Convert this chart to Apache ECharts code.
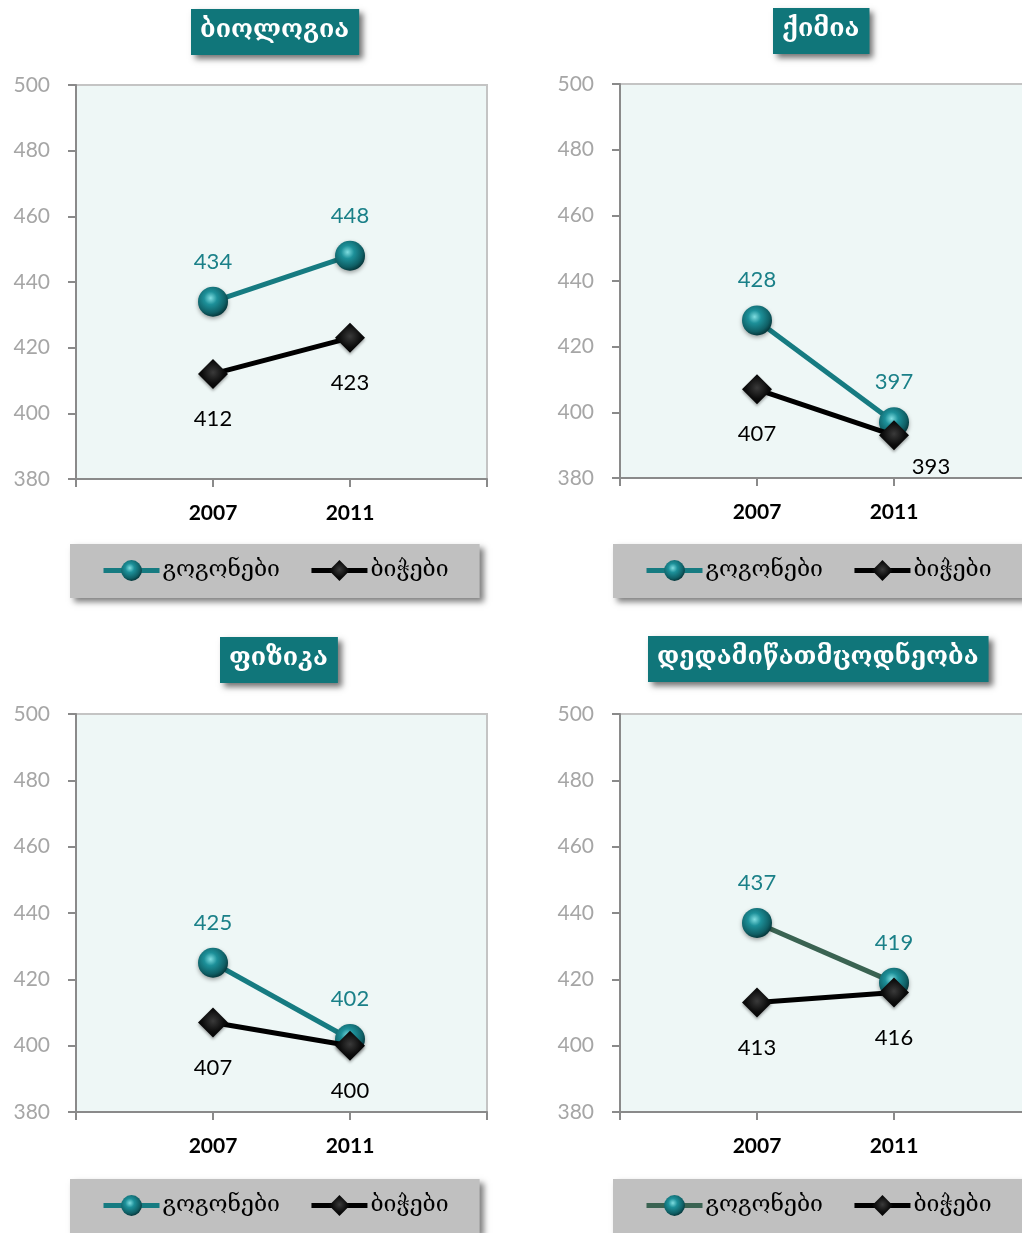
<!DOCTYPE html>
<html>
<head>
<meta charset="utf-8">
<script src="https://cdn.jsdelivr.net/npm/echarts@6/dist/echarts.min.js"></script>
<style>
  html, body { margin: 0; padding: 0; background: #fff; }
  #root { width: 1022px; height: 1233px; }
</style>
</head>
<body>
<div id="root"></div>
<script>
// categories (blank ends give the outer ticks)
const categories = ['', '2007', '2011', ''];
const subjects = ['ბიოლოგია', 'ქიმია', 'ფიზიკა', 'დედამიწათმცოდნეობა'];
const seriesNames = ['გოგონები', 'ბიჭები'];
const yTicks = [380, 400, 420, 440, 460, 480, 500];

const girlsBiology = [434, 448];
const boysBiology = [412, 423];
const girlsChemistry = [428, 397];
const boysChemistry = [407, 393];
const girlsPhysics = [425, 402];
const boysPhysics = [407, 400];
const girlsEarth = [437, 419];
const boysEarth = [413, 416];

(function() {
  const teal = '#167b81';
  const labelTeal = '#1a8088';
  const georgian = '"DejaVu Serif", "DejaVu Sans", serif';
  const latin = 'Lato, "Open Sans", sans-serif';

  // right-hand panels run past the page edge, like the source
  const panels = [
    { girls: girlsBiology, boys: boysBiology, grid: { left: 76, top: 85, right: 535, height: 394 },
      title: { left: 191, top: 9 }, legend: { left: 70, top: 544 }, girlsColor: teal },
    { girls: girlsChemistry, boys: boysChemistry, grid: { left: 620, top: 84, right: -9, height: 394 },
      title: { left: 773, top: 8 }, legend: { left: 613, top: 544 }, girlsColor: teal, shiftLast: true },
    { girls: girlsPhysics, boys: boysPhysics, grid: { left: 76, top: 714, right: 535, height: 398 },
      title: { left: 220, top: 637 }, legend: { left: 70, top: 1179 }, girlsColor: teal },
    { girls: girlsEarth, boys: boysEarth, grid: { left: 620, top: 714, right: -9, height: 398 },
      title: { left: 648, top: 636 }, legend: { left: 613, top: 1179 }, girlsColor: '#3a6352' }
  ];

  const pad = vals => [null, ...vals, null];

  const sphere = {
    type: 'radial', x: 0.42, y: 0.38, r: 0.62,
    colorStops: [
      { offset: 0, color: '#7fdde0' },
      { offset: 0.35, color: '#1d9099' },
      { offset: 0.8, color: '#0f5f65' },
      { offset: 1, color: '#073a3e' }
    ]
  };
  const diamond = {
    type: 'radial', x: 0.5, y: 0.45, r: 0.6,
    colorStops: [
      { offset: 0, color: '#3a3a3a' },
      { offset: 0.6, color: '#0c0c0c' },
      { offset: 1, color: '#000' }
    ]
  };

  const option = {
    animation: false,
    title: [], grid: [], xAxis: [], yAxis: [], series: [], legend: []
  };

  panels.forEach((p, i) => {
    option.title.push({
      text: subjects[i],
      left: p.title.left,
      top: p.title.top,
      backgroundColor: '#10767a',
      padding: [9, 10, 12, 9],
      shadowBlur: 6,
      shadowColor: 'rgba(0,0,0,0.55)',
      shadowOffsetX: 4,
      shadowOffsetY: 4,
      textStyle: { color: '#fff', fontSize: 25, fontWeight: 'bold', fontFamily: georgian }
    });

    option.grid.push(Object.assign({
      show: true,
      outerBoundsMode: 'none',
      containLabel: false,
      backgroundColor: '#eef7f6',
      borderColor: '#c4c4c4',
      borderWidth: 2
    }, p.grid));

    option.xAxis.push({
      type: 'category',
      gridIndex: i,
      data: categories,
      boundaryGap: false,
      axisLine: { lineStyle: { color: '#8a8a8a', width: 2 } },
      axisTick: { show: true, length: 8, interval: 0, lineStyle: { color: '#8a8a8a', width: 2 } },
      axisLabel: { interval: 0, margin: 24, color: '#000', fontSize: 21, fontWeight: 'bold', fontFamily: latin },
      splitLine: { show: false }
    });

    option.yAxis.push({
      type: 'value',
      gridIndex: i,
      min: yTicks[0],
      max: yTicks[yTicks.length - 1],
      interval: 20,
      axisLine: { show: true, lineStyle: { color: '#8a8a8a', width: 2 } },
      axisTick: { show: true, length: 8, lineStyle: { color: '#8a8a8a', width: 2 } },
      axisLabel: { margin: 26, color: '#a6a6a6', fontSize: 21, fontFamily: latin },
      splitLine: { show: false }
    });

    option.series.push({
      name: seriesNames[0],
      type: 'line',
      xAxisIndex: i,
      yAxisIndex: i,
      data: pad(p.girls),
      symbol: 'circle',
      symbolSize: 30,
      lineStyle: { color: p.girlsColor, width: 5 },
      itemStyle: { color: sphere, shadowBlur: 4, shadowColor: 'rgba(0,0,0,0.35)', shadowOffsetY: 2 },
      label: { show: true, position: 'top', distance: 14, color: labelTeal, fontSize: 22, fontFamily: latin },
      z: 2
    });

    const boysData = pad(p.boys).map((v, k) => {
      if (v === null) return v;
      if (p.shiftLast && k === 2) {
        return { value: v, label: { offset: [37, -13] } };
      }
      return v;
    });

    option.series.push({
      name: seriesNames[1],
      type: 'line',
      xAxisIndex: i,
      yAxisIndex: i,
      data: boysData,
      symbol: 'diamond',
      symbolSize: 30,
      lineStyle: { color: '#000', width: 5 },
      itemStyle: { color: diamond, shadowBlur: 3, shadowColor: 'rgba(0,0,0,0.35)', shadowOffsetY: 2 },
      label: { show: true, position: 'bottom', distance: 19, color: '#000', fontSize: 22, fontFamily: latin },
      z: 3
    });

    option.legend.push({
      left: p.legend.left,
      top: p.legend.top,
      width: 420,
      orient: 'horizontal',
      backgroundColor: '#c0c0c0',
      padding: [15, 31, 16, 31],
      itemGap: 29,
      itemWidth: 56,
      itemHeight: 26,
      shadowBlur: 6,
      shadowColor: 'rgba(0,0,0,0.5)',
      shadowOffsetX: 4,
      shadowOffsetY: 4,
      selectedMode: false,
      textStyle: { color: '#000', fontSize: 23, fontFamily: georgian, padding: [8, 0, 0, -2] },
      data: [
        { name: seriesNames[0], lineStyle: { color: p.girlsColor, width: 5 }, itemStyle: { color: sphere } },
        { name: seriesNames[1], lineStyle: { color: '#000', width: 5 }, itemStyle: { color: diamond } }
      ]
    });
  });

  const chart = echarts.init(document.getElementById('root'));
  chart.setOption(option);
})();
</script>
</body>
</html>
